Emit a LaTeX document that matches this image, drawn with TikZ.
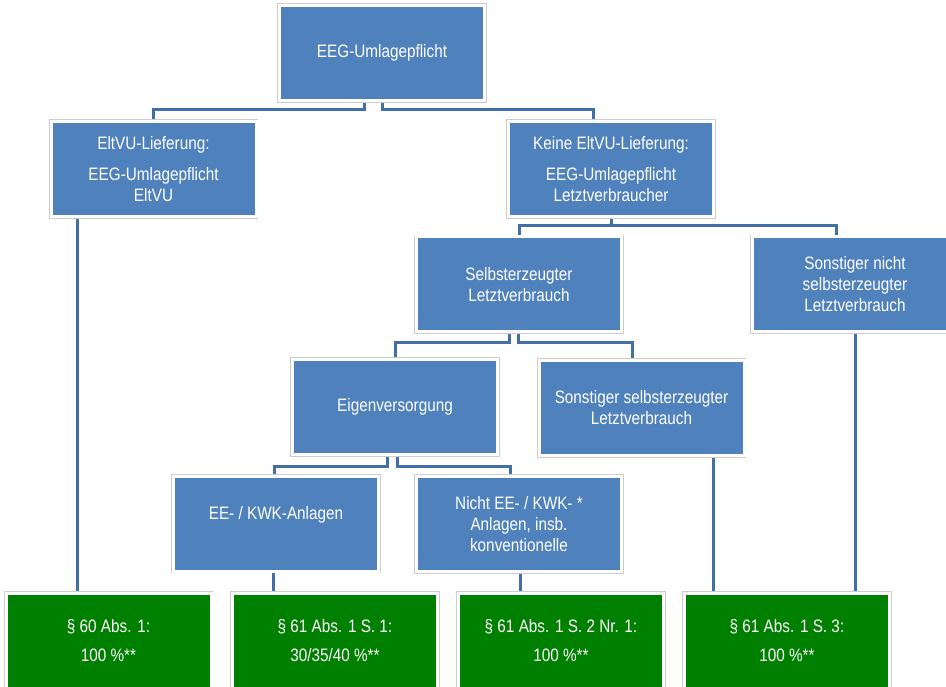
\documentclass[tikz,border=0pt]{standalone}
\usepackage{fontspec}
\setmainfont{Liberation Sans}[FakeStretch=0.85]
\usetikzlibrary{backgrounds}

\definecolor{boxblue}{RGB}{79,129,189}
\definecolor{lawgreen}{RGB}{0,128,0}
\definecolor{linkblue}{RGB}{66,112,166}
\definecolor{rimgray}{RGB}{205,205,205}

\begin{document}
\begin{tikzpicture}[x=1pt,y=-1pt,
  box/.style={rectangle, minimum width=205pt, minimum height=95pt, inner sep=2pt,
    fill=boxblue, draw=white, line width=3pt,
    preaction={draw=rimgray, line width=4.6pt},
    text=white, align=center, font=\fontsize{18}{21}\selectfont},
  lawbox/.style={box, fill=lawgreen},
  link/.style={draw=linkblue, line width=3pt}]

\useasboundingbox (0,0) rectangle (946,687);

% decision boxes
\node[box] (top)         at (382,53)      {EEG-Umlagepflicht};
\node[box] (eltvu)       at (153.5,169)   {EltVU-Lieferung:\\[10pt]EEG-Umlagepflicht\\EltVU};
\node[box] (keine)       at (611,169)     {Keine EltVU-Lieferung:\\[10pt]EEG-Umlagepflicht\\Letztverbraucher};
\node[box] (selbst)      at (519,284.5)   {Selbsterzeugter\\Letztverbrauch};
\node[box] (sonstnicht)  at (855,284.5)   {Sonstiger nicht\\selbsterzeugter\\Letztverbrauch};
\node[box] (eigen)       at (395,407)     {Eigenversorgung};
\node[box] (sonstselbst) at (641.5,408)   {Sonstiger selbsterzeugter\\Letztverbrauch};
\node[box] (ee)          at (276,523.5)   {EE- / KWK-Anlagen\\\mbox{}};
\node[box] (nichtee)     at (519,524)     {Nicht EE- / KWK- *\\Anlagen, insb.\\konventionelle};

% resulting levy shares
\node[lawbox] (g1) at (108.5,641) {§ 60 Abs. 1:\\[8pt]100 \%**};
\node[lawbox] (g2) at (335,641)   {§ 61 Abs. 1 S. 1:\\[8pt]30/35/40 \%**};
\node[lawbox] (g3) at (561,641)   {§ 61 Abs. 1 S. 2 Nr. 1:\\[8pt]100 \%**};
\node[lawbox] (g4) at (787,641)   {§ 61 Abs. 1 S. 3:\\[8pt]100 \%**};

% connector start points
\coordinate (t1) at ([xshift=-18pt]top.south);
\coordinate (s1) at ([xshift=-10pt]selbst.south);
\coordinate (s2) at ([xshift=-1pt]selbst.south);
\coordinate (e1) at ([xshift=-8pt]eigen.south);
\coordinate (e2) at ([xshift=2pt]eigen.south);
\coordinate (v1) at ([xshift=-76.5pt]eltvu.south);
\coordinate (v2) at ([xshift=-3pt]ee.south);
\coordinate (v3) at ([xshift=1pt]nichtee.south);
\coordinate (v4) at ([xshift=71.5pt]sonstselbst.south);

\begin{scope}[on background layer]
  \draw[link] (t1) -- (t1 |- 0,110) -| (eltvu.north);
  \draw[link] (top.south) -- (top.south |- 0,110) -| ([xshift=-18pt]keine.north);
  \draw[link] (keine.south) -- (keine.south |- 0,226) -| (selbst.north);
  \draw[link] (keine.south) -- (keine.south |- 0,226) -| ([xshift=-19pt]sonstnicht.north);
  \draw[link] (s1) -- (s1 |- 0,343) -| (eigen.north);
  \draw[link] (s2) -- (s2 |- 0,343) -| ([xshift=-9.5pt]sonstselbst.north);
  \draw[link] (e1) -- (e1 |- 0,466) -| ([xshift=-2pt]ee.north);
  \draw[link] (e2) -- (e2 |- 0,466) -| ([xshift=-9pt]nichtee.north);
  \draw[link] (v1) -- (v1 |- g1.north);
  \draw[link] (v2) -- (v2 |- g2.north);
  \draw[link] (v3) -- (v3 |- g3.north);
  \draw[link] (v4) -- (v4 |- g4.north);
  \draw[link] (sonstnicht.south) -- (sonstnicht.south |- g4.north);
\end{scope}
\end{tikzpicture}
\end{document}
